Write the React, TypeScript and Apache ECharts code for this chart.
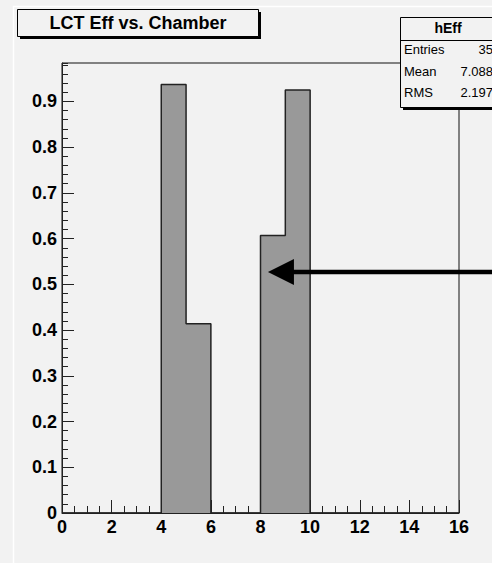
import React, { useEffect, useRef } from 'react';
import * as echarts from 'echarts';

const TITLE = 'LCT Eff vs. Chamber';
const BIN_LOW_EDGES = [0, 1, 2, 3, 4, 5, 6, 7, 8, 9, 10, 11, 12, 13, 14, 15];
const BIN_VALUES = [0, 0, 0, 0, 0.937, 0.414, 0, 0, 0.607, 0.925, 0, 0, 0, 0, 0, 0];
const X_MAX = 16;
const Y_MAX = 0.984;
const STATS_NAME = 'hEff';
const STATS_LABELS = ['Entries', 'Mean', 'RMS'];
const STATS_VALUES = ['35', '7.088', '2.197'];
const ARROW_FROM = [18, 0.527];
const ARROW_TO = [8.3, 0.527];

const FONT = "'Liberation Sans', Arial, Helvetica, sans-serif";
const BG = '#f2f2f2';

export default function App() {
  const ref = useRef<HTMLDivElement>(null);
  useEffect(() => {
    document.body.style.margin = '0';
    const chart = echarts.init(ref.current!, undefined, { renderer: 'svg' });
    const stepData = BIN_LOW_EDGES.map((x, i) => [x, BIN_VALUES[i]]);
    stepData.push([X_MAX, 0]);
    chart.setOption({
      animation: false,
      backgroundColor: BG,
      grid: {
        left: 62, top: 63, right: 33, bottom: 50,
        show: true, borderColor: '#111', borderWidth: 1, backgroundColor: 'transparent',
      },
      xAxis: {
        type: 'value', min: 0, max: X_MAX, interval: 2,
        axisLine: { show: true, lineStyle: { color: '#222', width: 1 } },
        axisTick: { show: true, inside: true, length: 13, lineStyle: { color: '#222' } },
        minorTick: { show: true, splitNumber: 4, length: 7, lineStyle: { color: '#222' } },
        splitLine: { show: false },
        axisLabel: { margin: 5, fontSize: 18, fontWeight: 'bold', color: '#000', fontFamily: FONT },
      },
      yAxis: [
        {
          type: 'value', min: 0, max: Y_MAX, interval: 0.1,
          axisLine: { show: true, lineStyle: { color: '#222', width: 1 } },
          axisTick: { show: true, inside: true, length: 12, lineStyle: { color: '#222' } },
          splitLine: { show: false },
          axisLabel: {
            margin: 5, fontSize: 18, fontWeight: 'bold', color: '#000', fontFamily: FONT,
            showMaxLabel: false,
            formatter: (v: number) => (v === 0 ? '0' : String(Math.round(v * 10) / 10)),
          },
        },
        {
          type: 'value', min: 0, max: Y_MAX, interval: 0.02, position: 'left',
          axisLine: { show: false },
          axisTick: { show: true, inside: true, length: 6, lineStyle: { color: '#222' } },
          axisLabel: { show: false },
          splitLine: { show: false },
        },
      ],
      series: [
        {
          type: 'line',
          step: 'end',
          data: stepData,
          showSymbol: false,
          symbol: 'none',
          lineStyle: { color: '#222', width: 1.5 },
          areaStyle: { color: '#999999', opacity: 1 },
          z: 1,
        },
      ],
    });

    const tip = chart.convertToPixel({ xAxisIndex: 0, yAxisIndex: 0 }, ARROW_TO) as number[];
    const start = chart.convertToPixel({ xAxisIndex: 0, yAxisIndex: 0 }, ARROW_FROM) as number[];
    const headLen = 26;
    const headHalf = 13;

    const statsX = 400, statsY = 17, statsW = 100, statsH = 90;
    const rowYs = [49, 71, 92];

    chart.setOption({
      graphic: [
        { type: 'line', shape: { x1: 13.5, y1: 6, x2: 13.5, y2: 563 }, style: { stroke: '#ffffff', lineWidth: 1.5 }, z: 5 },
        { type: 'line', shape: { x1: 13, y1: 6.5, x2: 492, y2: 6.5 }, style: { stroke: '#ffffff', lineWidth: 1.5 }, z: 5 },
        // title box
        { type: 'rect', shape: { x: 20, y: 12, width: 241, height: 27 }, style: { fill: '#000' }, z: 10 },
        { type: 'rect', shape: { x: 17.5, y: 9.5, width: 241, height: 27 }, style: { fill: BG, stroke: '#000', lineWidth: 1 }, z: 11 },
        {
          type: 'text', x: 138, y: 23, z: 12,
          style: { text: TITLE, font: `bold 18px ${FONT}`, fill: '#000', align: 'center', verticalAlign: 'middle' },
        },
        // stats box
        { type: 'rect', shape: { x: statsX + 3, y: statsY + 3, width: statsW, height: statsH }, style: { fill: '#000' }, z: 10 },
        { type: 'rect', shape: { x: statsX + 0.5, y: statsY + 0.5, width: statsW, height: statsH }, style: { fill: BG, stroke: '#000', lineWidth: 1 }, z: 11 },
        { type: 'line', shape: { x1: statsX, y1: 40.5, x2: statsX + statsW, y2: 40.5 }, style: { stroke: '#000', lineWidth: 1 }, z: 12 },
        {
          type: 'text', x: 448, y: 28, z: 12,
          style: { text: STATS_NAME, font: `bold 14px ${FONT}`, fill: '#000', align: 'center', verticalAlign: 'middle' },
        },
        ...STATS_LABELS.map((s, i) => ({
          type: 'text', x: 404, y: rowYs[i], z: 12,
          style: { text: s, font: `13px ${FONT}`, fill: '#000', align: 'left', verticalAlign: 'middle' },
        })),
        ...STATS_VALUES.map((s, i) => ({
          type: 'text', x: 493, y: rowYs[i], z: 12,
          style: { text: s, font: `13px ${FONT}`, fill: '#000', align: 'right', verticalAlign: 'middle' },
        })),
        // arrow
        {
          type: 'line', z: 20,
          shape: { x1: start[0], y1: start[1], x2: tip[0] + headLen - 2, y2: tip[1] },
          style: { stroke: '#000', lineWidth: 4.5 },
        },
        {
          type: 'polygon', z: 20,
          shape: { points: [[tip[0], tip[1]], [tip[0] + headLen, tip[1] - headHalf], [tip[0] + headLen, tip[1] + headHalf]] },
          style: { fill: '#000' },
        },
      ],
    });
    return () => chart.dispose();
  }, []);
  return <div ref={ref} style={{ position: 'fixed', left: 0, top: 0, width: 492, height: 563 }} />;
}
